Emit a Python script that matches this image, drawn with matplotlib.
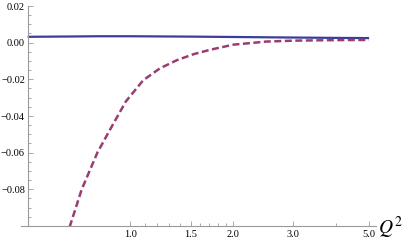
import numpy as np
import matplotlib.pyplot as plt
from matplotlib.ticker import FixedLocator, NullFormatter

# solid curve
q2_solid = [0.5, 0.6, 0.7, 0.8, 1.0, 1.5, 2.0, 3.0, 4.0, 5.0]
val_solid = [0.0032, 0.0033, 0.0034, 0.0035, 0.0035, 0.0033, 0.0031, 0.0028, 0.0026, 0.0025]

# dashed curve
q2_dash = [0.65, 0.665, 0.72, 0.80, 0.88, 0.97, 1.09, 1.22, 1.37, 1.53, 1.71, 2.0, 2.5, 3.0, 4.0, 5.0]
val_dash = [-0.106, -0.100, -0.080, -0.060, -0.046, -0.032, -0.0205, -0.0140, -0.0095,
            -0.0063, -0.0039, -0.0011, 0.0006, 0.0011, 0.0014, 0.0015]

x_major = [1.0, 1.5, 2.0, 3.0, 5.0]
x_minor = [1.1, 1.2, 1.3, 1.4, 1.6, 1.7, 1.8, 1.9, 4.0]
y_major = [-0.08, -0.06, -0.04, -0.02, 0.00, 0.02]

plt.rcParams['font.family'] = ['Liberation Serif', 'DejaVu Serif']
plt.rcParams['mathtext.fontset'] = 'stix'

fig = plt.figure(figsize=(4.09, 2.41), dpi=100)
ax = fig.add_axes([21 / 409, 15 / 241, (376 - 21) / 409, (241 - 15 - 6) / 241])

ax.plot(q2_solid, val_solid, color='#3d3d99', lw=1.6, solid_capstyle='butt')
ax.plot(q2_dash, val_dash, color='#993d71', lw=1.8, dashes=(2.8, 1.4))

ax.set_xscale('log')
ax.set_xlim(0.478, 5.24)
ax.set_ylim(-0.1, 0.02)

for s in ['top', 'right']:
    ax.spines[s].set_visible(False)
ax.spines['left'].set_position(('data', 0.5))
for s in ['left', 'bottom']:
    ax.spines[s].set_color('#9a9a9a')
    ax.spines[s].set_linewidth(0.8)

ax.xaxis.set_major_locator(FixedLocator(x_major))
ax.xaxis.set_minor_locator(FixedLocator(x_minor))
ax.set_xticklabels(['%.1f' % v for v in x_major])
ax.xaxis.set_minor_formatter(NullFormatter())
ax.yaxis.set_major_locator(FixedLocator(y_major))
ax.yaxis.set_minor_locator(FixedLocator(np.arange(-0.095, 0.02, 0.005)))
ax.set_yticklabels(['\u22120.%02d' % round(-v * 100) if v < 0 else '%.2f' % v for v in y_major])

ax.tick_params(which='both', direction='in', color='#9a9a9a', labelsize=7.5, width=0.6)
ax.tick_params(which='major', length=3.5)
ax.tick_params(which='minor', length=2)
ax.tick_params(axis='x', pad=3)
ax.tick_params(axis='y', pad=2)

ax.text(1.005, -0.008, '$Q^2$', transform=ax.transAxes, fontsize=14,
        ha='left', va='center')

fig.savefig('out.png', dpi=100)
